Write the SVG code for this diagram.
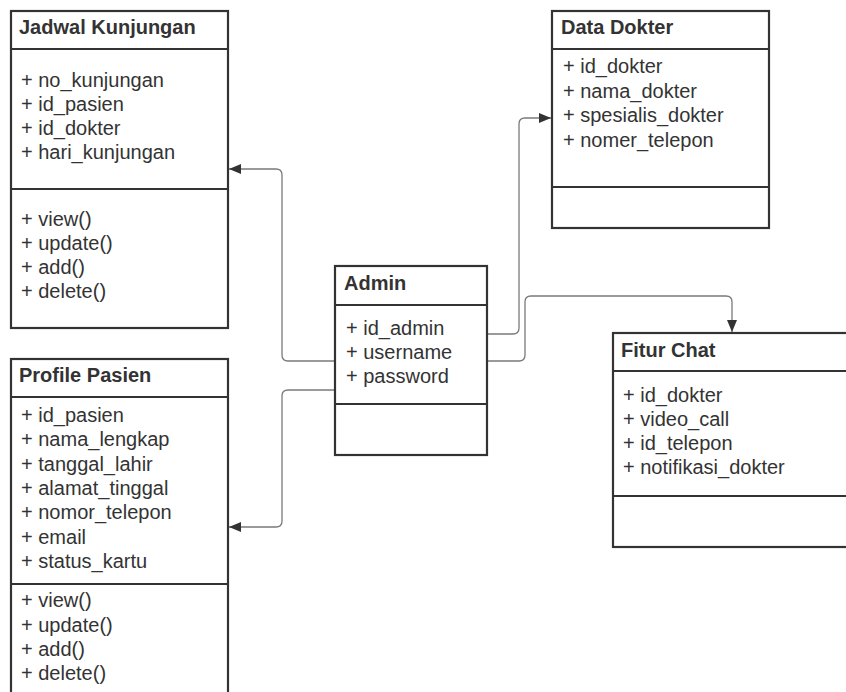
<svg xmlns="http://www.w3.org/2000/svg" width="846" height="692" viewBox="0 0 846 692">
<defs>
<style>
.box{fill:#fff;stroke:#333;stroke-width:2.2}
.div{stroke:#333;stroke-width:2.2}
.t{font-family:"Liberation Sans",Arial,sans-serif;font-size:20px;fill:#333}
.h{font-family:"Liberation Sans",Arial,sans-serif;font-size:20px;font-weight:bold;fill:#333}
.c{fill:none;stroke:#7a7a7a;stroke-width:1.3}
</style>
<marker id="ah" markerWidth="12" markerHeight="10" refX="12" refY="5" orient="auto" markerUnits="userSpaceOnUse">
<path d="M0,0 L12,5 L0,10 Z" fill="#333"/>
</marker>
</defs>
<rect width="846" height="692" fill="#fff"/>
<g id="connectors">
<path class="c" d="M335,361 H288 Q282,361 282,355 V175 Q282,169 276,169 H229" marker-end="url(#ah)"/>
<path class="c" d="M335,390 H288 Q282,390 282,396 V521 Q282,527 276,527 H229" marker-end="url(#ah)"/>
<path class="c" d="M487,334 H513 Q519,334 519,328 V124 Q519,118 525,118 H551" marker-end="url(#ah)"/>
<path class="c" d="M487,361 H519 Q525,361 525,355 V302 Q525,296 531,296 H726 Q732,296 732,302 V332" marker-end="url(#ah)"/>
</g>
<g id="jadwal">
<rect class="box" x="11" y="11" width="217" height="317"/>
<line class="div" x1="11" y1="49" x2="228" y2="49"/>
<line class="div" x1="11" y1="189" x2="228" y2="189"/>
<text class="h" x="19" y="34">Jadwal Kunjungan</text>
<text class="t" x="21" y="87">+ no_kunjungan</text>
<text class="t" x="21" y="111">+ id_pasien</text>
<text class="t" x="21" y="135">+ id_dokter</text>
<text class="t" x="21" y="159">+ hari_kunjungan</text>
<text class="t" x="21" y="226">+ view()</text>
<text class="t" x="21" y="250">+ update()</text>
<text class="t" x="21" y="274">+ add()</text>
<text class="t" x="21" y="298">+ delete()</text>
</g>
<g id="datadokter">
<rect class="box" x="552" y="11" width="217" height="217"/>
<line class="div" x1="552" y1="49" x2="769" y2="49"/>
<line class="div" x1="552" y1="187" x2="769" y2="187"/>
<text class="h" x="561" y="34">Data Dokter</text>
<text class="t" x="563" y="73">+ id_dokter</text>
<text class="t" x="563" y="97.5">+ nama_dokter</text>
<text class="t" x="563" y="122">+ spesialis_dokter</text>
<text class="t" x="563" y="146.5">+ nomer_telepon</text>
</g>
<g id="admin">
<rect class="box" x="335" y="266" width="152" height="189"/>
<line class="div" x1="335" y1="305" x2="487" y2="305"/>
<line class="div" x1="335" y1="404" x2="487" y2="404"/>
<text class="h" x="344" y="290">Admin</text>
<text class="t" x="346" y="335">+ id_admin</text>
<text class="t" x="346" y="359">+ username</text>
<text class="t" x="346" y="383">+ password</text>
</g>
<g id="fiturchat">
<rect class="box" x="613" y="333" width="240" height="214"/>
<line class="div" x1="613" y1="371" x2="853" y2="371"/>
<line class="div" x1="613" y1="496" x2="853" y2="496"/>
<text class="h" x="621" y="357">Fitur Chat</text>
<text class="t" x="623" y="402">+ id_dokter</text>
<text class="t" x="623" y="426">+ video_call</text>
<text class="t" x="623" y="450">+ id_telepon</text>
<text class="t" x="623" y="474">+ notifikasi_dokter</text>
</g>
<g id="profilepasien">
<rect class="box" x="11" y="359" width="217" height="345"/>
<line class="div" x1="11" y1="397" x2="228" y2="397"/>
<line class="div" x1="11" y1="584" x2="228" y2="584"/>
<text class="h" x="19" y="382">Profile Pasien</text>
<text class="t" x="21" y="422">+ id_pasien</text>
<text class="t" x="21" y="446">+ nama_lengkap</text>
<text class="t" x="21" y="471">+ tanggal_lahir</text>
<text class="t" x="21" y="495">+ alamat_tinggal</text>
<text class="t" x="21" y="519">+ nomor_telepon</text>
<text class="t" x="21" y="544">+ email</text>
<text class="t" x="21" y="568">+ status_kartu</text>
<text class="t" x="21" y="607">+ view()</text>
<text class="t" x="21" y="632">+ update()</text>
<text class="t" x="21" y="656">+ add()</text>
<text class="t" x="21" y="680">+ delete()</text>
</g>
</svg>
